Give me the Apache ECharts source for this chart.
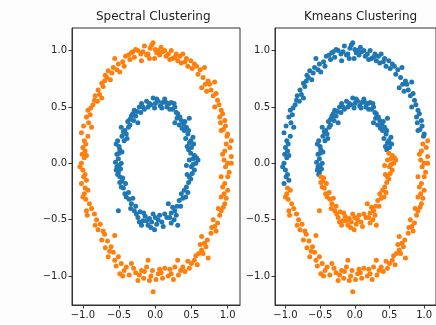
<!DOCTYPE html>
<html>
<head>
<meta charset="utf-8">
<script src="https://cdn.jsdelivr.net/npm/echarts@6/dist/echarts.min.js"></script>
<style>
  html, body { margin: 0; padding: 0; background: #fdfdfd; }
  #chart { width: 436px; height: 325px; }
</style>
</head>
<body>
<div id="chart"></div>
<script>
// points as [x, y, kmeansCluster]  (0 = blue, 1 = orange in the Kmeans panel)
var outerRing = [
  [-1.02,0.00,0],[-0.98,0.05,0],[-0.95,0.07,0],[-1.00,0.14,0],[-0.97,0.11,0],[-0.98,0.20,0],[-1.02,0.27,0],
  [-0.93,0.24,0],[-0.88,0.32,0],[-0.95,0.41,0],[-0.92,0.36,0],[-0.93,0.47,0],[-0.89,0.49,0],[-0.84,0.56,0],
  [-0.86,0.52,0],[-0.74,0.58,0],[-0.79,0.65,0],[-0.77,0.61,0],[-0.74,0.71,0],[-0.70,0.73,0],[-0.72,0.68,0],
  [-0.65,0.82,0],[-0.67,0.76,0],[-0.60,0.80,0],[-0.56,0.93,0],[-0.51,0.88,0],[-0.49,0.81,0],[-0.45,0.90,0],
  [-0.41,0.95,0],[-0.37,0.96,0],[-0.33,0.98,0],[-0.29,0.94,0],[-0.27,1.01,0],[-0.24,1.00,0],[-0.19,0.91,0],
  [-0.20,0.97,0],[-0.15,1.04,0],[-0.12,0.96,0],[-0.10,0.97,0],[-0.07,1.02,0],[-0.03,1.07,0],[-0.01,0.93,0],
  [0.02,0.98,0],[0.04,1.00,0],[0.08,1.03,0],[0.13,1.00,0],[0.15,0.95,0],[0.18,0.97,0],[0.22,1.00,0],
  [0.24,0.93,0],[0.27,0.94,0],[0.31,0.91,0],[0.34,0.95,0],[0.38,0.97,0],[0.41,0.90,0],[0.45,0.86,0],
  [0.49,0.91,0],[0.54,0.88,0],[0.59,0.79,0],[0.62,0.83,0],[0.68,0.85,0],[0.64,0.67,0],[0.69,0.70,0],
  [0.73,0.73,0],[0.77,0.65,0],[0.82,0.72,0],[0.80,0.60,0],[0.86,0.56,0],[0.82,0.50,0],[0.88,0.52,0],
  [0.91,0.47,0],[0.89,0.41,0],[0.93,0.44,0],[0.96,0.38,0],[0.91,0.29,0],[0.97,0.33,0],[1.00,0.26,0],
  [1.05,0.20,1],[0.96,0.11,1],[1.03,0.14,1],[1.05,0.06,1],[1.00,0.00,1],[0.95,0.03,1],[1.05,0.00,1],
  [1.00,-0.12,1],[0.91,-0.12,1],[0.96,-0.18,1],[1.02,-0.08,1],[1.00,-0.24,1],[0.91,-0.30,1],[0.95,-0.27,1],
  [0.96,-0.36,1],[0.91,-0.42,1],[0.94,-0.39,1],[0.86,-0.53,1],[0.82,-0.56,1],[0.80,-0.50,1],[0.84,-0.60,1],
  [0.77,-0.62,1],[0.64,-0.65,1],[0.68,-0.71,1],[0.72,-0.68,1],[0.64,-0.77,1],[0.73,-0.84,1],[0.60,-0.80,1],
  [0.54,-0.86,1],[0.50,-0.89,1],[0.56,-0.82,1],[0.45,-0.87,1],[0.38,-0.92,1],[0.41,-0.96,1],[0.31,-0.86,1],
  [0.27,-0.92,1],[0.32,-0.99,1],[0.22,-0.98,1],[0.18,-1.00,1],[0.13,-0.93,1],[0.10,-1.02,1],[0.04,-0.98,1],
  [0.06,-0.94,1],[-0.03,-1.14,1],[-0.06,-1.00,1],[-0.04,-0.95,1],[-0.10,-0.86,1],[-0.12,-0.92,1],[-0.16,-1.02,1],
  [-0.19,-0.95,1],[-0.24,-1.04,1],[-0.27,-0.97,1],[-0.33,-0.89,1],[-0.36,-0.99,1],[-0.30,-0.93,1],[-0.43,-0.95,1],
  [-0.47,-0.89,1],[-0.49,-0.98,1],[-0.51,-0.83,1],[-0.56,-0.86,1],[-0.61,-0.74,1],[-0.65,-0.83,1],[-0.56,-0.64,1],
  [-0.66,-0.69,1],[-0.74,-0.68,1],[-0.70,-0.63,1],[-0.79,-0.59,1],[-0.76,-0.54,1],[-0.81,-0.50,1],[-0.84,-0.45,1],
  [-0.95,-0.42,1],[-0.91,-0.36,1],[-0.96,-0.32,1],[-0.98,-0.27,1],[-0.93,-0.24,1],[-0.95,-0.15,0],[-1.00,-0.06,0],
  [-0.97,-0.10,0],[-1.02,-0.18,0],
  [-0.99,0.33,0],[-0.90,0.43,0],[-0.83,0.60,0],[-0.80,0.55,0],[-0.69,0.78,0],[-0.62,0.74,0],[-0.58,0.85,0],
  [-0.53,0.83,0],[-0.43,0.86,0],[-0.35,0.92,0],[-0.31,0.99,0],[-0.17,0.99,0],[-0.08,0.93,0],[-0.05,1.05,0],
  [0.00,1.01,0],[0.06,0.96,0],[0.10,0.99,0],[0.20,0.92,0],[0.29,0.97,0],[0.36,0.89,0],[0.43,0.93,0],
  [0.51,0.84,0],[0.57,0.86,0],[0.66,0.76,0],[0.71,0.64,0],[0.75,0.70,0],[0.84,0.62,0],[0.90,0.36,0],
  [0.94,0.30,0],[0.99,0.24,0],
  [0.98,0.17,1],[0.93,0.08,1],[0.97,-0.03,1],[0.93,-0.21,1],[0.98,-0.31,1],[0.89,-0.46,1],[0.87,-0.40,1],
  [0.78,-0.57,1],[0.70,-0.74,1],[0.62,-0.72,1],[0.66,-0.80,1],[0.58,-0.90,1],[0.47,-0.93,1],[0.35,-0.95,1],
  [0.25,-1.03,1],[0.20,-0.94,1],[0.08,-0.97,1],[0.01,-1.03,1],[-0.08,-1.04,1],[-0.15,-0.96,1],[-0.22,-0.99,1],
  [-0.40,-0.92,1],[-0.45,-1.00,1],[-0.54,-0.91,1],[-0.58,-0.79,1],[-0.63,-0.78,1],[-0.69,-0.75,1],[-0.72,-0.60,1],
  [-0.83,-0.55,1],[-0.88,-0.40,1],[-0.94,-0.46,1],[-1.00,-0.30,1],[-0.97,-0.22,1],[-0.99,-0.12,0],[-1.04,-0.03,0],
  [-1.01,0.08,0],[-0.96,0.17,0]
];

var innerRing = [
  [-0.47,0.00,0],[-0.51,0.04,0],[-0.53,0.08,0],[-0.49,0.12,0],[-0.54,0.17,0],[-0.50,0.15,0],[-0.43,0.20,0],
  [-0.46,0.24,0],[-0.40,0.26,0],[-0.42,0.29,0],[-0.47,0.32,0],[-0.37,0.32,0],[-0.38,0.37,0],[-0.33,0.42,0],
  [-0.35,0.39,0],[-0.24,0.36,0],[-0.29,0.47,0],[-0.31,0.44,0],[-0.25,0.46,0],[-0.19,0.53,0],[-0.22,0.50,0],
  [-0.15,0.48,0],[-0.10,0.50,0],[-0.12,0.55,0],[-0.06,0.52,0],[-0.03,0.58,0],[0.00,0.53,0],[0.04,0.55,0],
  [0.07,0.51,0],[0.10,0.54,0],[0.13,0.57,0],[0.16,0.50,0],[0.19,0.53,0],[0.22,0.54,0],[0.24,0.48,0],
  [0.27,0.50,0],[0.29,0.45,0],[0.31,0.44,0],[0.34,0.41,0],[0.36,0.38,0],[0.27,0.36,0],[0.33,0.34,0],
  [0.39,0.35,0],[0.47,0.40,0],[0.43,0.32,0],[0.40,0.29,0],[0.45,0.26,0],[0.42,0.22,0],[0.52,0.23,0],
  [0.47,0.18,0],[0.50,0.14,0],[0.44,0.15,0],
  [0.54,0.07,1],[0.59,0.03,1],[0.49,0.09,1],[0.52,0.04,1],[0.43,-0.02,1],[0.56,0.00,1],[0.50,-0.03,1],
  [0.54,-0.06,1],[0.47,-0.12,1],[0.51,-0.09,1],[0.43,-0.21,1],[0.46,-0.17,1],[0.36,-0.27,1],[0.40,-0.24,1],
  [0.42,-0.30,1],[0.33,-0.33,1],[0.27,-0.42,1],[0.30,-0.38,1],[0.18,-0.36,1],[0.22,-0.44,1],[0.13,-0.45,1],
  [0.16,-0.48,1],[0.22,-0.53,1],[0.31,-0.55,1],[0.26,-0.50,1],[0.09,-0.52,1],[0.04,-0.50,1],[0.06,-0.46,1],
  [-0.01,-0.59,1],[-0.03,-0.45,1],[-0.05,-0.52,1],[-0.10,-0.55,1],[-0.08,-0.49,1],[-0.14,-0.47,1],[-0.19,-0.55,1],
  [-0.17,-0.51,1],[-0.24,-0.48,1],[-0.21,-0.43,1],[-0.29,-0.42,1],[-0.27,-0.38,1],[-0.33,-0.36,1],[-0.31,-0.31,1],
  [-0.40,-0.30,1],[-0.37,-0.26,1],[-0.51,-0.42,1],[-0.44,-0.22,1],[-0.47,-0.21,1],[-0.49,-0.17,1],[-0.45,-0.13,1],
  [-0.49,-0.12,1],[-0.51,-0.08,0],[-0.53,-0.03,0],[-0.48,-0.05,0],[-0.52,-0.10,0],
  [-0.55,0.01,0],[-0.50,0.09,0],[-0.46,0.10,0],[-0.52,0.20,0],[-0.44,0.28,0],[-0.39,0.22,0],[-0.35,0.34,0],
  [-0.30,0.38,0],[-0.27,0.42,0],[-0.20,0.45,0],[-0.17,0.50,0],[-0.08,0.53,0],[-0.01,0.49,0],[0.02,0.57,0],
  [0.09,0.49,0],[0.15,0.54,0],[0.20,0.48,0],[0.26,0.53,0],[0.30,0.40,0],[0.37,0.31,0],[0.41,0.37,0],
  [0.46,0.29,0],[0.49,0.20,0],[0.53,0.17,0],[0.46,0.12,0],
  [0.57,0.05,1],[0.47,0.03,1],[0.52,-0.01,1],[0.49,-0.14,1],[0.44,-0.10,1],[0.45,-0.26,1],[0.38,-0.31,1],
  [0.35,-0.38,1],[0.29,-0.46,1],[0.20,-0.48,1],[0.24,-0.39,1],[0.11,-0.56,1],[0.02,-0.54,1],[0.00,-0.48,1],
  [-0.06,-0.57,1],[-0.12,-0.51,1],[-0.16,-0.44,1],[-0.22,-0.52,1],[-0.26,-0.45,1],[-0.34,-0.40,1],[-0.36,-0.32,1],
  [-0.42,-0.27,1],[-0.41,-0.18,1],[-0.46,-0.16,1],[-0.54,-0.06,0],[-0.50,-0.02,0]
];

var titles = ['Spectral Clustering', 'Kmeans Clustering'];
var tickValues = [-1, -0.5, 0, 0.5, 1];
var xRange = [-1.15, 1.17];
var yRange = [-1.257, 1.2];

var blue = '#1f77b4';
var orange = '#ff7f0e';

function fmt(v) {
  return (v < 0 ? '\u2212' : '') + Math.abs(v).toFixed(1);
}

function xy(p) { return [p[0], p[1]]; }

var allPts = outerRing.concat(innerRing);
var kmBlue = allPts.filter(function (p) { return p[2] === 0; }).map(xy);
var kmOrange = allPts.filter(function (p) { return p[2] === 1; }).map(xy);

function mkAxis(idx, range) {
  return {
    type: 'value', gridIndex: idx, min: range[0], max: range[1],
    axisLine: { show: true, onZero: false, lineStyle: { color: '#333', width: 1 } },
    axisTick: { show: true, length: 3.5, customValues: tickValues, lineStyle: { color: '#333' } },
    axisLabel: { customValues: tickValues, formatter: fmt, color: '#222', fontSize: 10, fontFamily: 'DejaVu Sans', margin: 5 },
    splitLine: { show: false }
  };
}

var chart = echarts.init(document.getElementById('chart'), null, { renderer: 'canvas' });

var sym = 5;

chart.setOption({
  backgroundColor: '#fdfdfd',
  animation: false,
  graphic: [
    { type: 'text', left: 155 - 59, top: 11, style: { text: titles[0], font: '12px "DejaVu Sans"', fill: '#222' } },
    { type: 'text', left: 358 - 54, top: 11, style: { text: titles[1], font: '12px "DejaVu Sans"', fill: '#222' } }
  ],
  grid: [
    { left: 72, top: 28, width: 168, height: 277, show: true, borderColor: '#333', borderWidth: 1, backgroundColor: '#ffffff' },
    { left: 275, top: 28, width: 168, height: 277, show: true, borderColor: '#333', borderWidth: 1, backgroundColor: '#ffffff' }
  ],
  xAxis: [mkAxis(0, xRange), mkAxis(1, xRange)],
  yAxis: [mkAxis(0, yRange), mkAxis(1, yRange)],
  series: [
    { type: 'scatter', xAxisIndex: 0, yAxisIndex: 0, symbolSize: sym, itemStyle: { color: orange, opacity: 1 }, data: outerRing.map(xy) },
    { type: 'scatter', xAxisIndex: 0, yAxisIndex: 0, symbolSize: sym, itemStyle: { color: blue, opacity: 1 }, data: innerRing.map(xy) },
    { type: 'scatter', xAxisIndex: 1, yAxisIndex: 1, symbolSize: sym, itemStyle: { color: blue, opacity: 1 }, data: kmBlue },
    { type: 'scatter', xAxisIndex: 1, yAxisIndex: 1, symbolSize: sym, itemStyle: { color: orange, opacity: 1 }, data: kmOrange }
  ]
});
</script>
</body>
</html>
